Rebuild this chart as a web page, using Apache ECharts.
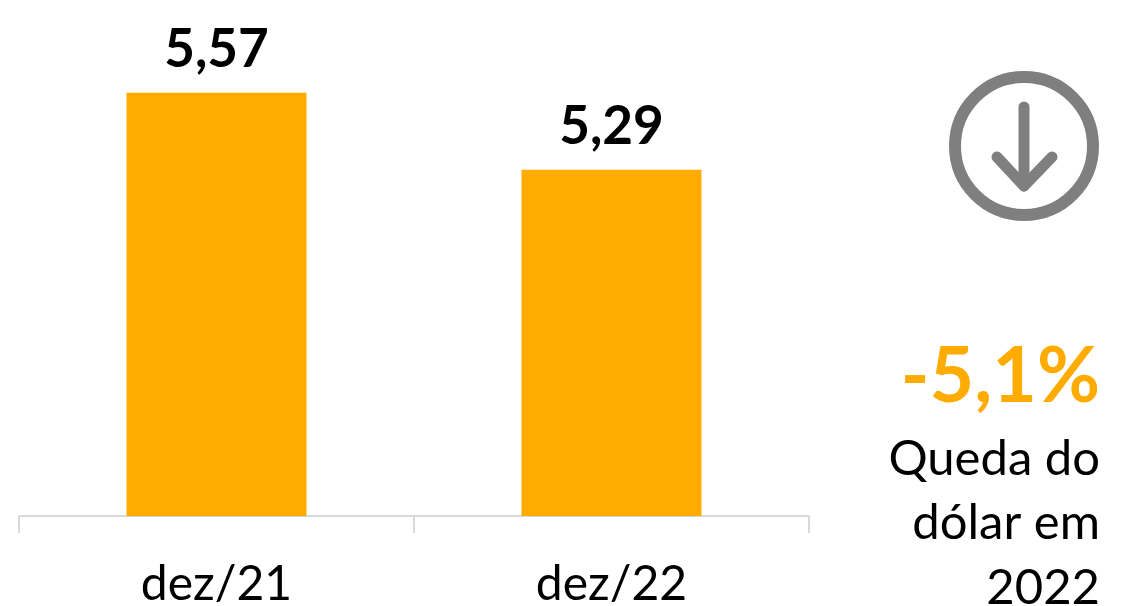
<!DOCTYPE html>
<html><head><meta charset="utf-8">
<style>html,body{margin:0;padding:0;background:#fff}#c{width:1128px;height:606px}</style>
<script src="https://cdn.jsdelivr.net/npm/echarts@6/dist/echarts.min.js"></script>
</head><body><div id="c"></div>
<script>
const categories = ["dez/21", "dez/22"];
const values = [5.57, 5.29];
const changeText = "-5,1%";
const noteLines = ["Queda do", "dólar em", "2022"];
const fmt = v => v.toFixed(2).replace(".", ",");
const font = "Lato, 'Open Sans', sans-serif";
const chart = echarts.init(document.getElementById("c"), null, {renderer: "canvas"});
const grey = "#7f7f7f";
chart.setOption({
  animation: false,
  grid: {left: 19, right: 319, top: 2, bottom: 90, outerBoundsMode: "none"},
  xAxis: {
    type: "category", data: categories,
    axisLine: {show: true, lineStyle: {color: "#d9d9d9", width: 2}},
    axisTick: {show: true, length: 17, alignWithLabel: false, lineStyle: {color: "#d9d9d9", width: 2}},
    axisLabel: {color: "#000", fontFamily: font, fontSize: 48, margin: 44, lineHeight: 50}
  },
  yAxis: {type: "value", min: 4.03, max: 5.9, show: false, splitLine: {show: false}},
  series: [{
    type: "bar", data: values, barWidth: 180,
    itemStyle: {color: "#ffab00"},
    label: {show: true, position: "top", distance: 16, color: "#000", fontFamily: font,
      fontWeight: "bold", fontSize: 53, formatter: p => fmt(p.value)}
  }],
  graphic: [
    {type: "circle", shape: {cx: 1024, cy: 146, r: 69}, style: {fill: "none", stroke: grey, lineWidth: 12}},
    {type: "polyline", shape: {points: [[1024, 107], [1024, 186]]}, style: {fill: "none", stroke: grey, lineWidth: 11, lineCap: "round"}},
    {type: "polyline", shape: {points: [[997, 157], [1024, 186], [1052, 157]]}, style: {fill: "none", stroke: grey, lineWidth: 11, lineCap: "round", lineJoin: "round"}},
    {type: "text", x: 1100, y: 377, style: {text: changeText, fill: "#ffab00", font: "bold 77px " + font, textAlign: "right", textVerticalAlign: "middle"}},
    ...noteLines.map((t, i) => ({type: "text", x: 1100, y: 459 + i * 64.5, style: {text: t, fill: "#000", font: "49px " + font, textAlign: "right", textVerticalAlign: "middle"}}))
  ]
});
</script></body></html>
